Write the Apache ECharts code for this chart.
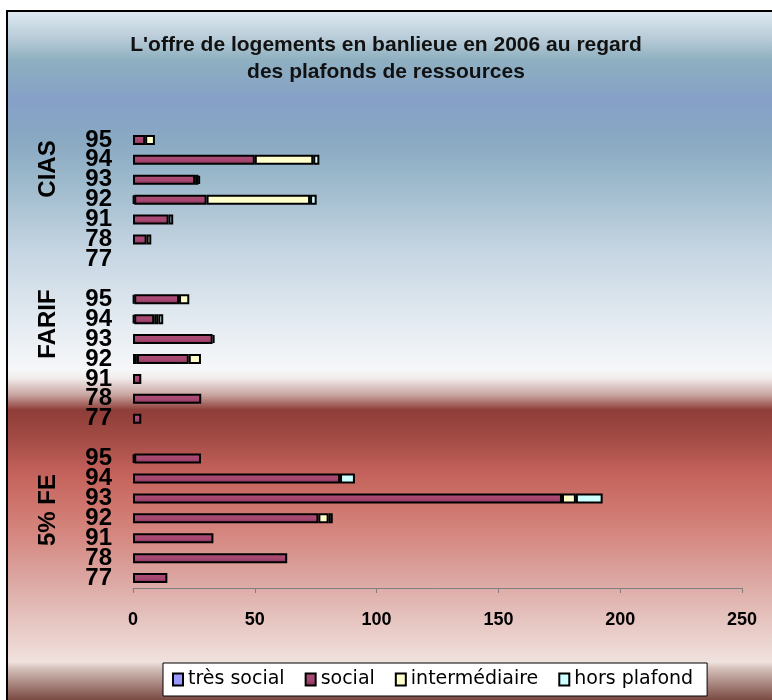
<!DOCTYPE html>
<html>
<head>
<meta charset="utf-8">
<script src="https://cdn.jsdelivr.net/npm/echarts@6/dist/echarts.min.js"></script>
<style>
  html, body { margin: 0; padding: 0; background: #fff; }
  #chart { width: 772px; height: 700px; }
</style>
</head>
<body>
<div id="chart"></div>
<script>
// departements, du haut vers le bas dans chaque bloc
var depts = ['95', '94', '93', '92', '91', '78', '77'];
var groups = ['CIAS', 'FARIF', '5% FE'];
var seriesNames = ['très social', 'social', 'intermédiaire', 'hors plafond'];

// une ligne par bloc (CIAS, FARIF, 5% FE), valeurs dans l'ordre de depts
var tresSocial = [
  [null, null, null, 0.5, null, null, null],
  [0.5, 0.5, null, 1.6, null, null, null],
  [0.5, null, null, null, null, null, null]
];
var social = [
  [5, 50, 25.5, 29.7, 14.6, 5.6, null],
  [18.4, 8.2, 32.7, 21.3, 3.4, 28, 3.4],
  [27.4, 85, 176.1, 76.1, 33, 63.3, 14.1]
];
var intermediaire = [
  [4, 24, 1.3, 42.5, null, 1.9, null],
  [4.2, 1.7, 0.8, 5, null, null, null],
  [null, null, 5.7, 4.2, null, null, null]
];
var horsPlafond = [
  [null, 2.5, 0.7, 2.7, 1.9, null, null],
  [null, 2, null, null, null, null, null],
  [null, 6.1, 11, 1.7, null, null, null]
];

var xMin = 0, xMax = 250, xStep = 50;

// lignes de l'axe : les blocs separes par une ligne vide
var rows = [];
groups.forEach(function (g, i) {
  rows = rows.concat(depts);
  if (i < groups.length - 1) rows.push('');
});
function flat(arr) {
  var out = [];
  arr.forEach(function (block, i) {
    out = out.concat(block);
    if (i < arr.length - 1) out.push(null);
  });
  return out;
}

var colors = [
  '#9999ff',
  new echarts.graphic.LinearGradient(0, 0, 0, 1, [
    { offset: 0, color: '#b0507a' },
    { offset: 0.6, color: '#a4466f' },
    { offset: 1, color: '#7c2a50' }
  ]),
  '#ffffcc',
  '#ccffff'
];
var allData = [tresSocial, social, intermediaire, horsPlafond];

// fond degrade (bleu en haut, rouge en bas), de y=11 a y=700
var bgTop = 11, bgH = 689;
function stop(y, c) { return { offset: (y - bgTop) / bgH, color: c }; }
var bg = new echarts.graphic.LinearGradient(0, 0, 0, 1, [
  stop(11, '#dfeaf2'), stop(40, '#b5c9d6'), stop(60, '#8eb0c0'),
  stop(100, '#86a0c8'), stop(140, '#89a9c2'), stop(180, '#9cb9cc'),
  stop(250, '#c5d5e2'), stop(320, '#e3eaf1'), stop(370, '#f6f7f9'),
  stop(378, '#f2eceb'), stop(395, '#c8a4a0'), stop(410, '#8f3d38'),
  stop(440, '#a44c46'), stop(470, '#c2605a'), stop(500, '#cd726a'),
  stop(540, '#d68b84'), stop(580, '#dca7a2'), stop(620, '#e6c4c0'),
  stop(662, '#f0e2de'), stop(668, '#d6c2bc'), stop(700, '#7a4a42')
]);

var groupLabelY = [169, 324, 510];

var option = {
  animation: false,
  backgroundColor: '#ffffff',
  title: {
    text: "L'offre de logements en banlieue en 2006 au regard\ndes plafonds de ressources",
    left: 'center',
    top: 27,
    padding: [5, 0, 5, 18],
    textStyle: {
      fontFamily: 'Liberation Sans',
      fontWeight: 'bold',
      fontSize: 21,
      lineHeight: 27,
      color: '#111'
    }
  },
  graphic: [
    {
      type: 'rect',
      z: -100,
      shape: { x: 7, y: bgTop, width: 780, height: bgH },
      style: { fill: bg }
    },
    {
      type: 'polyline',
      z: -90,
      shape: { points: [[7, 700], [7, 11], [772, 11]] },
      style: { stroke: '#000', lineWidth: 2, fill: null }
    }
  ].concat(groups.map(function (g, i) {
    return {
      type: 'text',
      x: 48,
      y: groupLabelY[i],
      rotation: Math.PI / 2,
      style: {
        text: g,
        fill: '#000',
        font: 'bold 24px "Liberation Sans", Arial, sans-serif',
        align: 'center',
        verticalAlign: 'middle'
      }
    };
  })),
  legend: {
    left: 163,
    top: 663,
    padding: [7, 14, 7, 9],
    itemGap: 20,
    itemWidth: 10,
    itemHeight: 12,
    backgroundColor: '#ffffff',
    borderColor: '#000',
    borderWidth: 1,
    borderRadius: 0,
    icon: 'rect',
    data: seriesNames,
    textStyle: {
      fontFamily: 'DejaVu Sans',
      fontSize: 19,
      color: '#000'
    }
  },
  grid: {
    left: 133,
    right: 30,
    top: 130,
    height: 458
  },
  xAxis: {
    type: 'value',
    min: xMin,
    max: xMax,
    interval: xStep,
    axisLine: { show: true, lineStyle: { color: '#7f7f7f', width: 1 } },
    axisTick: { show: true, length: 5, lineStyle: { color: '#7f7f7f' } },
    splitLine: { show: false },
    axisLabel: {
      margin: 23,
      color: '#000',
      fontFamily: 'Liberation Sans',
      fontWeight: 'bold',
      fontSize: 18
    }
  },
  yAxis: {
    type: 'category',
    inverse: true,
    data: rows,
    axisLine: { show: false },
    axisTick: { show: false },
    axisLabel: {
      margin: 21,
      color: '#000',
      fontFamily: 'Liberation Sans',
      fontWeight: 'bold',
      fontSize: 24,
      interval: 0
    }
  },
  series: seriesNames.map(function (name, i) {
    return {
      name: name,
      type: 'bar',
      stack: 'total',
      barWidth: 10,
      itemStyle: {
        color: colors[i],
        borderColor: '#000',
        borderWidth: 2
      },
      emphasis: { disabled: true },
      data: flat(allData[i])
    };
  })
};

var myChart = echarts.init(document.getElementById('chart'));
myChart.setOption(option);
</script>
</body>
</html>
